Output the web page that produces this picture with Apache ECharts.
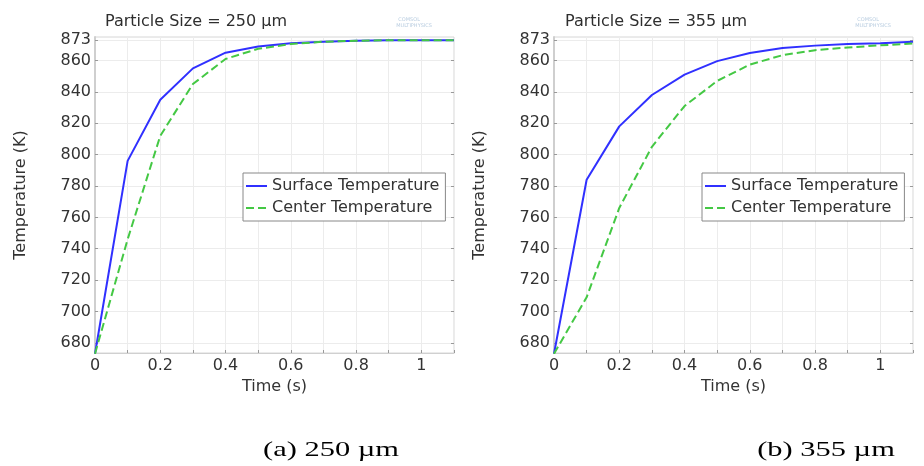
<!DOCTYPE html>
<html>
<head>
<meta charset="utf-8">
<script src="https://cdn.jsdelivr.net/npm/echarts@6/dist/echarts.min.js"></script>
<style>html,body{margin:0;padding:0;background:#fff;}#c{width:924px;height:466px;}</style>
</head>
<body>
<div id="c"></div>
<script>
// ---- data ----
const timeS = [0, 0.1, 0.2, 0.3, 0.4, 0.5, 0.6, 0.7, 0.8, 0.9, 1.0, 1.1];
const surface250 = [673, 796, 835, 855, 865, 869, 871, 872, 872.6, 873, 873, 873];
const center250  = [673, 746, 812, 845, 861, 867.5, 870.5, 872, 872.6, 873, 873, 873];
const surface355 = [673, 784, 818, 838, 851, 859.6, 864.8, 868, 869.5, 870.5, 871, 872];
const center355  = [673, 709, 766, 805, 831, 847, 857.4, 863.4, 866.6, 868.3, 869.7, 870.8];
const yTicks = [680, 700, 720, 740, 760, 780, 800, 820, 840, 860, 873];
const xLabels = [0, 0.2, 0.4, 0.6, 0.8, 1];
const titles = ['Particle Size = 250 µm', 'Particle Size = 355 µm'];
const captions = ['(a) 250 µm', '(b) 355 µm'];
const seriesNames = ['Surface Temperature', 'Center Temperature'];

const pair = (xs, ys) => xs.map((x, i) => [x, ys[i]]);
const FONT = 'DejaVu Sans';
const BLUE = '#3030ff', GREEN = '#44c844';

const grids = [
  {left: 95, top: 37, width: 359, height: 316},
  {left: 554, top: 37, width: 359, height: 316}
];

function xAxis(gi) {
  return {
    type: 'value', gridIndex: gi, min: 0, max: 1.1, interval: 0.1,
    name: 'Time (s)', nameLocation: 'middle', nameGap: 21,
    nameTextStyle: {fontFamily: FONT, fontSize: 16, color: '#333'},
    axisLine: {show: true, lineStyle: {color: '#d0d0d0', width: 1}},
    axisTick: {show: true, inside: true, length: 3, lineStyle: {color: '#999'}},
    axisLabel: {customValues: xLabels, fontFamily: FONT, fontSize: 16, color: '#333', margin: 5,
      formatter: v => String(Math.round(v * 10) / 10)},
    splitLine: {show: true, lineStyle: {color: '#ececec', width: 1}}
  };
}
function yAxis(gi) {
  return {
    type: 'value', gridIndex: gi, min: 673.5, max: 875,
    name: 'Temperature (K)', nameLocation: 'middle', nameGap: 66,
    nameTextStyle: {fontFamily: FONT, fontSize: 16, color: '#333'},
    axisLine: {show: true, lineStyle: {color: '#cfcfcf', width: 2}},
    axisTick: {show: true, customValues: yTicks, inside: true, length: 3, lineStyle: {color: '#999'}},
    axisLabel: {customValues: yTicks, fontFamily: FONT, fontSize: 16, color: '#333', margin: 4},
    splitLine: {show: true, lineStyle: {color: '#ececec', width: 1}}
  };
}
function yAxisRight(gi) {
  return {
    type: 'value', gridIndex: gi, min: 673.5, max: 875, position: 'right',
    axisLine: {show: false},
    axisTick: {show: true, customValues: yTicks, inside: true, length: 3, lineStyle: {color: '#999'}},
    axisLabel: {show: false},
    splitLine: {show: false}
  };
}

function legend(left) {
  return {
    left: left, top: 173, orient: 'vertical',
    backgroundColor: '#fff', borderColor: '#888', borderWidth: 1, borderRadius: 0,
    padding: [5, 6, 5, 2], itemWidth: 21, itemHeight: 10, itemGap: 6,
    itemStyle: {opacity: 0},
    textStyle: {fontFamily: FONT, fontSize: 16, color: '#333', padding: [0, 0, 0, 0]},
    data: seriesNames
  };
}

function lineSeries(name, data, gi, color, dashed) {
  return {
    type: 'line', name: name, xAxisIndex: gi, yAxisIndex: gi * 2, data: data,
    showSymbol: false, symbol: 'none', animation: false,
    lineStyle: {color: color, width: 2, type: dashed ? [8, 4] : 'solid'},
    itemStyle: {color: color}
  };
}

const option = {
  animation: false,
  title: [
    {text: titles[0], left: 100, top: 9, textStyle: {fontFamily: FONT, fontSize: 16, fontWeight: 'normal', color: '#2e2e2e'}},
    {text: titles[1], left: 560, top: 9, textStyle: {fontFamily: FONT, fontSize: 16, fontWeight: 'normal', color: '#2e2e2e'}}
  ],
  grid: grids.map(g => Object.assign({show: true, borderColor: '#d6d6d6', borderWidth: 1, backgroundColor: '#fff'}, g)),
  xAxis: [xAxis(0), xAxis(1)],
  yAxis: [yAxis(0), yAxisRight(0), yAxis(1), yAxisRight(1)],
  legend: [legend(243), legend(702)],
  series: [
    lineSeries(seriesNames[0], pair(timeS, surface250), 0, BLUE, false),
    lineSeries(seriesNames[1], pair(timeS, center250), 0, GREEN, true),
    lineSeries(seriesNames[0], pair(timeS, surface355), 1, BLUE, false),
    lineSeries(seriesNames[1], pair(timeS, center355), 1, GREEN, true)
  ],
  graphic: [
    {type: 'text', x: 331, y: 450, scaleX: 1.45, style: {text: captions[0], textAlign: 'center', textVerticalAlign: 'middle', font: '21px "Liberation Serif"', fill: '#000'}},
    {type: 'text', x: 826, y: 450, scaleX: 1.45, style: {text: captions[1], textAlign: 'center', textVerticalAlign: 'middle', font: '21px "Liberation Serif"', fill: '#000'}},
    {type: 'text', x: 420, y: 20, style: {text: 'COMSOL', textAlign: 'right', textVerticalAlign: 'middle', font: '5px "DejaVu Sans"', fill: '#b9cde0'}},
    {type: 'text', x: 432, y: 26, style: {text: 'MULTIPHYSICS', textAlign: 'right', textVerticalAlign: 'middle', font: '5px "DejaVu Sans"', fill: '#b9cde0'}},
    {type: 'text', x: 879, y: 20, style: {text: 'COMSOL', textAlign: 'right', textVerticalAlign: 'middle', font: '5px "DejaVu Sans"', fill: '#b9cde0'}},
    {type: 'text', x: 891, y: 26, style: {text: 'MULTIPHYSICS', textAlign: 'right', textVerticalAlign: 'middle', font: '5px "DejaVu Sans"', fill: '#b9cde0'}}
  ]
};

const chart = echarts.init(document.getElementById('c'), null, {renderer: 'canvas'});
chart.setOption(option);
</script>
</body>
</html>
